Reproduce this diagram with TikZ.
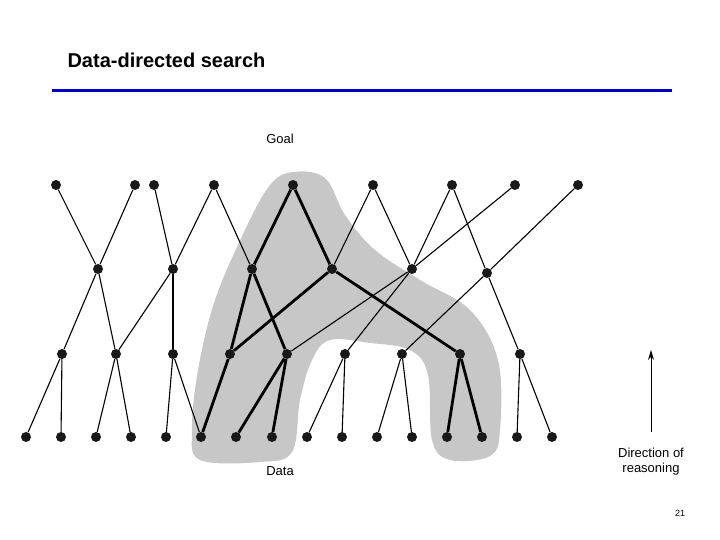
\documentclass[tikz,border=0pt]{standalone}
\usepackage{fontspec}
\setmainfont{Liberation Sans}
\usetikzlibrary{arrows.meta}
\begin{document}
\begin{tikzpicture}[x=1pt,y=-1pt,
 nd/.style={circle,fill=black!90,inner sep=0pt,minimum size=10pt},
 ln/.style={line width=1.1pt},
 tk/.style={line width=2.8pt}]
\useasboundingbox (0,0) rectangle (720,540);
\fill[black!22] plot[smooth cycle,tension=0.6] coordinates{(293,172) (325,178) (345,215) (375,250) (420,280) (470,310) (498,360) (500,430) (490,456) (450,460) (432,440) (428,375) (410,350) (370,343) (330,340) (312,360) (300,400) (292,452) (260,462) (200,460) (192,430) (198,370) (215,300) (245,230) (270,185)};
\node[anchor=west,font=\fontsize{20}{24}\selectfont\bfseries] (title) at (64,60) {Data-directed search};
\draw[line width=3pt,color={rgb,255:red,0;green,0;blue,200}] (52,91) -- (672,91);
\node[font=\fontsize{13}{15}\selectfont] (goal) at (280,139) {Goal};
\node[font=\fontsize{13}{15}\selectfont] (data) at (280,471) {Data};
\foreach \n/\x in {t1/56,t2/135,t3/154,t4/214,t5/293,t6/373,t7/452,t8/515,t9/578} \node[nd] (\n) at (\x,185) {};
\foreach \n/\x/\y in {a/98/269,b/173/269,c/252/269,d/332/269,e/412/269,f/487/273} \node[nd] (\n) at (\x,\y) {};
\foreach \n/\x in {p1/62,p2/116,p3/173,p4/230,p5/287,p6/345,p7/402,p8/460,p9/520} \node[nd] (\n) at (\x,354) {};
\foreach \n/\x in {q1/26,q2/61,q3/96,q4/131,q5/166,q6/201,q7/236,q8/272,q9/307,q10/342,q11/377,q12/412,q13/447,q14/482,q15/517,q16/552} \node[nd] (\n) at (\x,437) {};
\foreach \u/\v in {t1/a,t2/a,t3/b,t4/b,t4/c,t6/d,t6/e,t7/e,t7/f,t8/e,t9/f,a/p1,a/p2,b/p2,b/p3,e/p5,e/p6,f/p7,f/p9,p1/q1,p1/q2,p2/q3,p2/q4,p3/q5,p3/q6,p6/q9,p6/q10,p7/q11,p7/q12,p9/q15,p9/q16}
 \draw[ln] (\u) -- (\v);
\foreach \u/\v in {t5/c,t5/d,c/p4,c/p5,d/p4,d/p8,p4/q6,p5/q7,p5/q8,p8/q13,p8/q14}
 \draw[tk] (\u) -- (\v);
\coordinate (ab) at (651,432);
\coordinate (ae) at (651,350);
\draw[line width=0.8pt,-{Stealth[length=10pt,width=6pt]}] (ab) -- (ae);
\node[align=center,font=\fontsize{13}{15}\selectfont,inner sep=0pt] (dir) at (651,462) {Direction of\\reasoning};
\node[font=\fontsize{9}{11}\selectfont] (num) at (680,513) {21};
\end{tikzpicture}
\end{document}
